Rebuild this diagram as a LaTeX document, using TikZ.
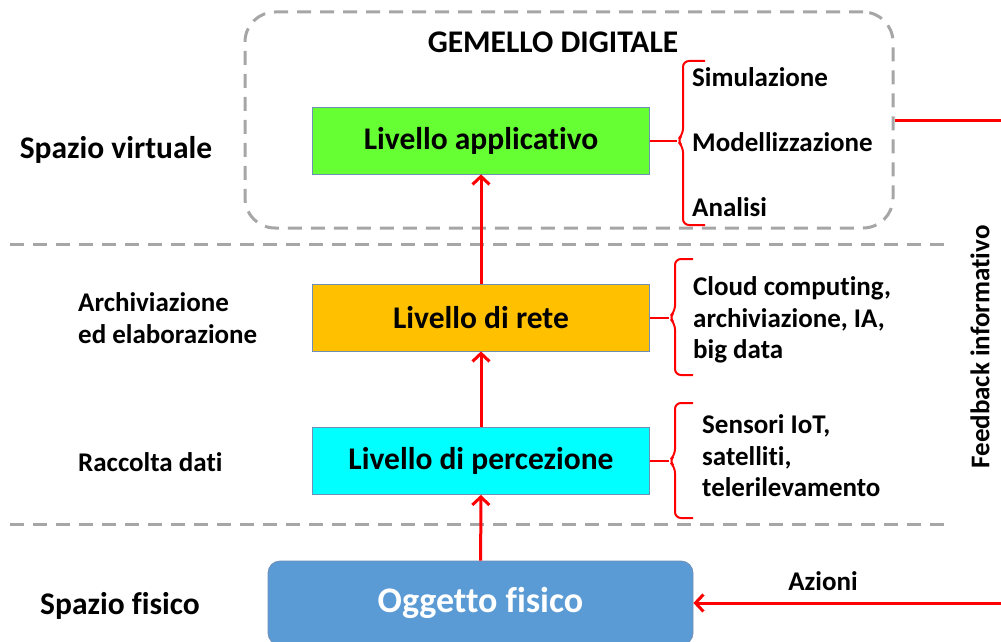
\documentclass[tikz,border=0pt]{standalone}
\usepackage{fontspec}
\setmainfont{Carlito}[Ligatures=NoCommon]
\usetikzlibrary{arrows.meta}

\definecolor{verdeapp}{HTML}{66FF33}
\definecolor{arancio}{HTML}{FFC000}
\definecolor{ciano}{HTML}{00FFFF}
\definecolor{bluogg}{HTML}{5B9BD5}
\definecolor{bordo}{HTML}{6F8FB5}
\definecolor{grigio}{HTML}{A6A6A6}

\tikzset{
  livello/.style={draw=bordo,line width=0.8pt,minimum width=337pt,minimum height=67pt,
    inner sep=0pt,font=\bfseries\fontsize{31.5}{36}\selectfont},
  freccia/.style={red,line width=3pt,-{Straight Barb[length=8pt,width=17pt]}},
  graffa/.style={red,line width=2pt,rounded corners=6pt},
  separa/.style={grigio,line width=3pt,dash pattern=on 14pt off 9pt},
  grande/.style={inner sep=0pt,font=\bfseries\fontsize{31.5}{36}\selectfont},
  piccolo/.style={inner sep=0pt,align=left,font=\bfseries\fontsize{27}{31.5}\selectfont},
}

\begin{document}
\begin{tikzpicture}[x=1pt,y=-1pt]
\useasboundingbox (0,0) rectangle (1001,642);

% gemello digitale
\node[draw=grigio,line width=3pt,dash pattern=on 14pt off 9pt,rounded corners=30pt,
  minimum width=648pt,minimum height=216pt] (twin) at (569,120) {};
\node[grande] (titolo) at (553,42) {GEMELLO DIGITALE};

% separatori
\draw[separa] (10,244) -- (952,244);
\draw[separa] (10,524) -- (952,524);

% livelli
\node[livello,fill=verdeapp] (app) at (481,140.5) {Livello applicativo};
\node[livello,fill=arancio] (rete) at (481,317.5) {Livello di rete};
\node[livello,fill=ciano] (perc) at (481,461) {Livello di percezione};
\node[fill=bluogg,draw=bordo,line width=0.8pt,rounded corners=12pt,minimum width=425pt,
  minimum height=84pt,text=white,font=\bfseries\fontsize{36}{40}\selectfont] (ogg) at (480.5,603) {Oggetto fisico};

\draw[freccia] (ogg) -- (perc);
\draw[freccia] (perc) -- (rete);
\draw[freccia] (rete) -- (app);

% graffe
\coordinate (appb) at (677,140.5);
\draw[graffa] (705,61) -- (683,61) -- (683,134.5) -- (appb) -- (683,146.5) -- (683,225) -- (705,225);
\draw[graffa] (app.east) -- (appb);
\coordinate (reteb) at (669,317.5);
\draw[graffa] (693,259) -- (675,259) -- (675,311.5) -- (reteb) -- (675,323.5) -- (675,375) -- (693,375);
\draw[graffa] (rete.east) -- (reteb);
\coordinate (percb) at (669,461);
\draw[graffa] (693,403) -- (675,403) -- (675,455) -- (percb) -- (675,467) -- (675,518) -- (693,518);
\draw[graffa] (perc.east) -- (percb);

\node[piccolo,anchor=west] (sim) at (692,77) {Simulazione};
\node[piccolo,anchor=west] (mod) at (692,142) {Modellizzazione};
\node[piccolo,anchor=west] (ana) at (692,207) {Analisi};
\node[piccolo,anchor=west] (cloud) at (693,320) {Cloud computing,\\archiviazione, IA,\\big data};
\node[piccolo,anchor=west] (sens) at (702,456) {Sensori IoT,\\satelliti,\\telerilevamento};

% etichette a sinistra
\node[grande] (virt) at (116,150) {Spazio virtuale};
\node[piccolo,anchor=west] (arch) at (78,318) {Archiviazione\\ed elaborazione};
\node[piccolo,anchor=west] (racc) at (78,462) {Raccolta dati};
\node[grande,anchor=west] (fis) at (40,606) {Spazio fisico};

% feedback
\coordinate (fbsu) at (1003,120);
\coordinate (fbgiu) at (1003,603);
\draw[freccia] (twin.east) -- (fbsu) -- (fbgiu) -- (ogg.east);
\node[piccolo,rotate=90] (feed) at (980,347) {Feedback informativo};
\node[piccolo] (azioni) at (823,581) {Azioni};

\end{tikzpicture}
\end{document}
